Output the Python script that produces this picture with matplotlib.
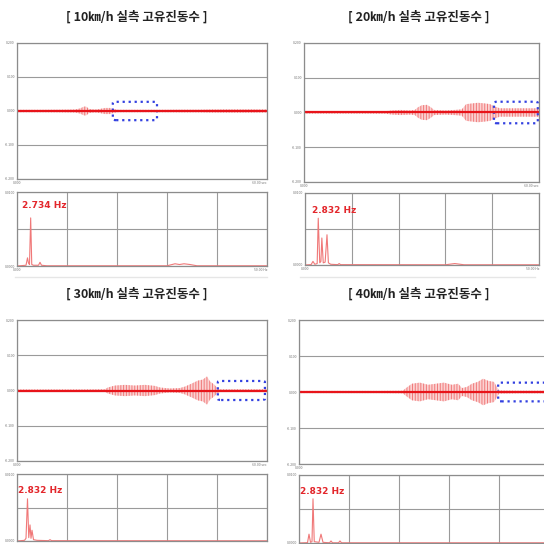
import numpy as np
import matplotlib
matplotlib.use("Agg")
import matplotlib.pyplot as plt
from matplotlib.patches import FancyBboxPatch

plt.rcParams['font.family'] = ['Noto Sans CJK KR', 'DejaVu Sans']
plt.rcParams['hatch.linewidth'] = 0.7

# ---- data ----------------------------------------------------------------
titles = ['[ 10㎞/h 실측 고유진동수 ]', '[ 20㎞/h 실측 고유진동수 ]',
          '[ 30㎞/h 실측 고유진동수 ]', '[ 40㎞/h 실측 고유진동수 ]']
peak_labels = ['2.734', '2.832', '2.832', '2.832']

# time signal envelope (sec, half amplitude)
t_10 = [0, 5.5, 10.3, 13.9, 15.1, 16.1, 16.6, 17.3, 18.7, 19.9, 21.1, 22.3, 23.0,
        24.2, 29.5, 34.3, 39.1, 43.9, 46.3, 51.1, 55.9, 60]
a_10 = [0.0035, 0.0035, 0.0038, 0.0044, 0.0074, 0.013, 0.013, 0.006, 0.0044, 0.006,
        0.009, 0.009, 0.006, 0.0035, 0.0035, 0.0035, 0.0038, 0.0038, 0.0044, 0.0047,
        0.0047, 0.0044]
t_20 = [0, 6.6, 14.3, 20.7, 22.5, 24.5, 27.1, 28.3, 29.1, 30.1, 31.4, 32.4, 33.2,
        36.0, 38.5, 40.3, 41.4, 42.9, 44.4, 46.2, 47.5, 48.5, 50.0, 52.6, 55.1, 57.7, 60]
a_20 = [0.003, 0.003, 0.003, 0.0035, 0.006, 0.0074, 0.006, 0.0074, 0.015, 0.021,
        0.022, 0.015, 0.0074, 0.006, 0.0074, 0.009, 0.024, 0.026, 0.028, 0.026, 0.024,
        0.018, 0.012, 0.012, 0.012, 0.012, 0.012]
t_30 = [0, 7.9, 15.1, 21.1, 21.8, 23.5, 25.9, 28.3, 30.7, 33.1, 34.3, 36.7, 39.1,
        40.3, 42.0, 43.4, 44.6, 45.6, 46.3, 47.3, 48.0, 48.7, 53.5, 60]
a_30 = [0.003, 0.003, 0.003, 0.0035, 0.0085, 0.014, 0.016, 0.014, 0.016, 0.013,
        0.0085, 0.0057, 0.007, 0.011, 0.02, 0.028, 0.031, 0.04, 0.026, 0.017, 0.0085,
        0.0035, 0.0035, 0.0035]
t_40 = [0, 9.8, 19.4, 24.9, 25.7, 27.1, 29.0, 31.0, 32.9, 34.8, 36.7, 38.2, 39.1,
        40.3, 41.5, 42.9, 44.2, 45.4, 46.8, 47.5, 48.0, 53.0, 60]
a_40 = [0.003, 0.003, 0.003, 0.0035, 0.011, 0.023, 0.026, 0.02, 0.023, 0.026, 0.02,
        0.023, 0.011, 0.014, 0.023, 0.028, 0.037, 0.031, 0.028, 0.014, 0.0043, 0.0035,
        0.0035]

# spectrum (Hz, relative amplitude)
f_10 = [0, 1.8, 2.1, 2.3, 2.5, 2.734, 2.95, 3.3, 4.3, 4.6, 4.9, 6, 30, 31.6, 32.5,
        33.4, 34.6, 36, 50]
s_10 = [0, 0.01, 0.11, 0.04, 0.02, 0.65, 0.02, 0.01, 0.01, 0.05, 0.01, 0.003, 0.003,
        0.03, 0.02, 0.03, 0.02, 0.003, 0.003]
f_20 = [0, 1.3, 1.7, 2.1, 2.6, 2.832, 3.15, 3.4, 3.6, 3.9, 4.3, 4.7, 5.0, 5.5, 7.0,
        7.3, 7.6, 30, 32, 34, 50]
s_20 = [0, 0.005, 0.05, 0.01, 0.02, 0.65, 0.03, 0.05, 0.375, 0.03, 0.04, 0.42, 0.03,
        0.01, 0.005, 0.02, 0.005, 0.003, 0.02, 0.003, 0.003]
f_30 = [0, 1.5, 1.8, 2.1, 2.35, 2.6, 2.8, 3.0, 3.3, 4.0, 6.3, 6.6, 6.9, 50]
s_30 = [0, 0.01, 0.04, 0.63, 0.05, 0.24, 0.04, 0.16, 0.02, 0.01, 0.005, 0.02, 0.005,
        0.003]
f_40 = [0, 1.7, 2.0, 2.3, 2.6, 2.8, 3.05, 4.0, 4.4, 4.8, 6.1, 6.4, 6.7, 7.9, 8.2,
        8.5, 50]
s_40 = [0, 0.005, 0.13, 0.01, 0.02, 0.65, 0.02, 0.01, 0.13, 0.01, 0.003, 0.03, 0.003,
        0.003, 0.03, 0.003, 0.003]

signals = [(t_10, a_10), (t_20, a_20), (t_30, a_30), (t_40, a_40)]
spectra = [(f_10, s_10), (f_20, s_20), (f_30, s_30), (f_40, s_40)]

# ---- layout (pixel boxes: x0, y0, x1, y1) --------------------------------
W = 544
time_boxes = [(17, 43, 267, 179), (304, 43, 539, 182), (17, 320, 267, 461), (299, 320, 549, 464)]
spec_boxes = [(17, 192, 267, 266), (305, 193, 539, 265), (17, 474, 267, 541), (299, 475, 549, 543)]
title_pos = [(137, 17), (419, 17), (137, 294), (419, 294)]
label_pos = [(1.0, 0.82), (1.5, 0.76), (0.1, 0.75), (0.2, 0.75)]
# blue dotted boxes (t0, t1, half height)
marks = [(23.0, 33.6, 0.027), (48.5, 59.7, 0.031), (48.2, 59.5, 0.027), (47.8, 62, 0.026)]

fig = plt.figure(figsize=(5.44, 5.44), dpi=100)
fig.patch.set_facecolor('white')

def px_axes(box):
    x0, y0, x1, y1 = box
    return fig.add_axes([x0 / W, 1 - y1 / W, (x1 - x0) / W, (y1 - y0) / W])

def style(ax):
    for s in ax.spines.values():
        s.set_color('#8c8c8c')
        s.set_linewidth(0.9)
    ax.grid(True, color='#9a9a9a', linewidth=0.8)
    ax.tick_params(length=0, labelsize=2.5, labelcolor='#777777', pad=1.5)

grey_line = dict(color='#e6e6e6', linewidth=1.0)
fig.add_artist(plt.Line2D([15 / W, 267 / W], [1 - 277 / W] * 2, transform=fig.transFigure, **grey_line))
fig.add_artist(plt.Line2D([300 / W, 535 / W], [1 - 277 / W] * 2, transform=fig.transFigure, **grey_line))

for i in range(4):
    x, y = title_pos[i]
    fig.text(x / W, 1 - y / W, titles[i], ha='center', va='center', fontsize=9,
             fontweight='bold', color='#222222')

    right_col = i in (1, 3)
    bottom_row = i in (2, 3)

    # time signal
    ax = px_axes(time_boxes[i])
    t, a = signals[i]
    t = np.array(t)
    a = np.array(a)
    ax.fill_between(t, -a, a, facecolor='#fbd2d2', edgecolor='#f07a7a',
                    hatch='||||||', linewidth=0)
    ax.plot(t, np.zeros_like(t), color='#e8141a', linewidth=1.6)
    ax.set_xlim(0, 60)
    ax.set_ylim(-0.2, 0.2)
    ax.set_yticks([-0.2, -0.1, 0, 0.1, 0.2])
    ax.set_yticklabels(['-0.200', '-0.100', '0.000', '0.100', '0.200'])
    ax.set_xticks([0, 60])
    ax.set_xticklabels(['0.000', '' if i == 3 else '60.00 sec'])
    ax.get_xticklabels()[1].set_ha('right')
    ax.xaxis.grid(False)
    style(ax)
    t0, t1, h = marks[i]
    ax.add_patch(FancyBboxPatch((t0, -h), t1 - t0, 2 * h,
                                boxstyle='round,pad=0,rounding_size=0.8',
                                mutation_aspect=0.004, fill=False, edgecolor='#3240e0',
                                linewidth=1.6, linestyle=(0, (1, 1.7)), clip_on=False))

    # spectrum
    ax2 = px_axes(spec_boxes[i])
    f, s = spectra[i]
    ax2.plot(f, s, color='#f07878', linewidth=0.8)
    ax2.set_xlim(0, 50)
    ax2.set_ylim(0, 1)
    ax2.set_xticks([0, 10, 20, 30, 40, 50])
    if bottom_row:
        ax2.set_xticklabels([''] * 6)
    else:
        ax2.set_xticklabels(['0.000', '', '', '', '', '50.00 Hz'])
        ax2.get_xticklabels()[5].set_ha('right')
    ax2.set_yticks([0, 0.5, 1])
    ax2.set_yticklabels(['0.0000', '', '0.0100'])
    style(ax2)
    lx, ly = label_pos[i]
    ax2.text(lx, ly, peak_labels[i] + ' Hz', color='#e3262b', fontsize=6.5,
             family=['Liberation Sans Narrow', 'DejaVu Sans'], fontweight='bold',
             va='center', ha='left')

fig.savefig('out.png', dpi=100, facecolor='white')
